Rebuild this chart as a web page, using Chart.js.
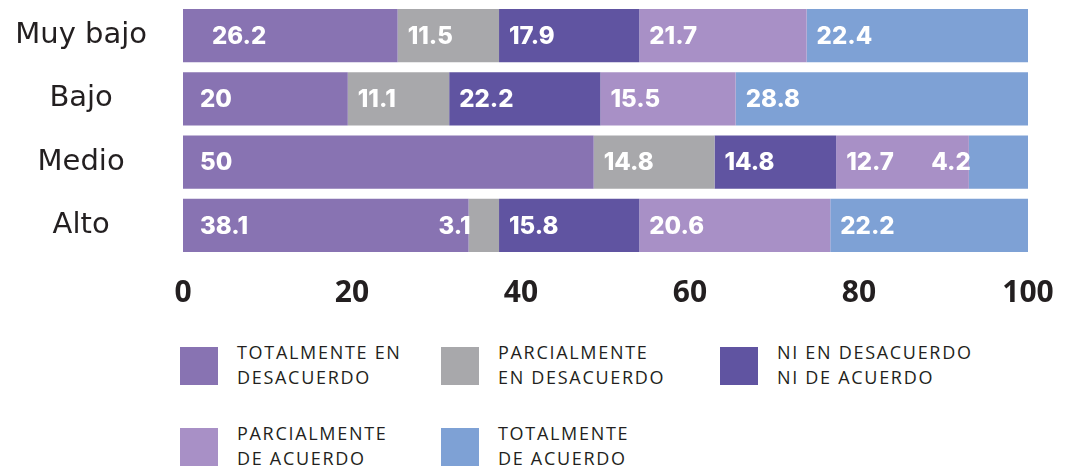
<!DOCTYPE html>
<html>
<head>
<meta charset="utf-8">
<script src="https://cdn.jsdelivr.net/npm/chart.js@4.4.0/dist/chart.umd.min.js"></script>
<style>
  body { margin: 0; width: 1068px; height: 471px; background: #fff; position: relative; overflow: hidden; font-family: 'Open Sans', sans-serif; }
  #wrap { position: absolute; left: 0; top: 0; width: 1068px; height: 320px; }
  .legend { position: absolute; left: 180px; top: 347px; display: grid; grid-template-columns: 261px 279px 280px; grid-auto-rows: 81px; }
  .item { display: flex; align-items: flex-start; }
  .box { width: 38px; height: 38px; flex: none; margin-right: 19px; }
  .txt { font-size: 18px; line-height: 25px; letter-spacing: 1.7px; color: #231f20; font-weight: 500; margin-top: -7px; white-space: nowrap; }
</style>
</head>
<body>
<div id="wrap"><canvas id="chart"></canvas></div>
<div class="legend" id="legend"></div>
<script>
const categories = ['Muy bajo', 'Bajo', 'Medio', 'Alto'];
const ticksX = [0, 20, 40, 60, 80, 100];

// largo de cada tramo tal como aparece dibujado en la figura
const totDesacuerdo = [25.4, 19.5, 48.6, 33.8];
const parDesacuerdo = [12.0, 12.0, 14.3, 3.6];
const niNi = [16.6, 17.9, 14.4, 16.6];
const parAcuerdo = [19.8, 16.0, 15.7, 22.6];
const totAcuerdo = [26.2, 34.6, 7.0, 23.4];

// cifras impresas sobre cada tramo
const totDesacuerdoTxt = ['26.2', '20', '50', '38.1'];
const parDesacuerdoTxt = ['11.5', '11.1', '14.8', '3.1'];
const niNiTxt = ['17.9', '22.2', '14.8', '15.8'];
const parAcuerdoTxt = ['21.7', '15.5', '12.7', '20.6'];
const totAcuerdoTxt = ['22.4', '28.8', '4.2', '22.2'];

const series = [
  { label: ['TOTALMENTE EN', 'DESACUERDO'], data: totDesacuerdo, txt: totDesacuerdoTxt, color: '#8873B2' },
  { label: ['PARCIALMENTE', 'EN DESACUERDO'], data: parDesacuerdo, txt: parDesacuerdoTxt, color: '#A8A8AB' },
  { label: ['NI EN DESACUERDO', 'NI DE ACUERDO'], data: niNi, txt: niNiTxt, color: '#6054A1' },
  { label: ['PARCIALMENTE', 'DE ACUERDO'], data: parAcuerdo, txt: parAcuerdoTxt, color: '#A890C6' },
  { label: ['TOTALMENTE', 'DE ACUERDO'], data: totAcuerdo, txt: totAcuerdoTxt, color: '#7EA1D5' }
];

// etiquetas blancas dentro de las barras
const etiquetas = {
  id: 'etiquetas',
  afterDatasetsDraw(chart) {
    const ctx = chart.ctx;
    ctx.save();
    ctx.font = '800 24px Inter';
    ctx.fillStyle = '#fff';
    ctx.textBaseline = 'middle';
    chart.data.datasets.forEach((ds, i) => {
      chart.getDatasetMeta(i).data.forEach((bar, j) => {
        const txt = ds.txt[j];
        const start = Math.min(bar.base, bar.x);
        if (parseFloat(txt) < 5) {
          ctx.textAlign = 'right';
          ctx.fillText(txt, start + 2, bar.y + 1);
        } else {
          ctx.textAlign = 'left';
          ctx.fillText(txt, start + (i === 0 ? (j === 0 ? 29 : 17) : 10), bar.y + 1);
        }
      });
    });
    ctx.restore();
  }
};

function draw() {
  new Chart(document.getElementById('chart'), {
    type: 'bar',
    data: {
      labels: categories,
      datasets: series.map(s => ({
        label: s.label.join(' '),
        data: s.data,
        txt: s.txt,
        backgroundColor: s.color,
        borderWidth: 0,
        barPercentage: 0.84,
        categoryPercentage: 1
      }))
    },
    options: {
      indexAxis: 'y',
      responsive: true,
      maintainAspectRatio: false,
      animation: false,
      layout: { padding: { left: 0, right: 40, top: 4, bottom: 0 } },
      plugins: { legend: { display: false }, tooltip: { enabled: false } },
      scales: {
        x: {
          stacked: true,
          min: 0,
          max: 100,
          afterBuildTicks: (scale) => { scale.ticks = ticksX.map(v => ({ value: v })); },
          afterFit: (scale) => { scale.height = 63; scale.paddingLeft = 0; scale.paddingRight = 0; },
          grid: { display: false, drawTicks: false },
          border: { display: false },
          ticks: { padding: 18, color: '#231f20', font: { family: 'Open Sans', size: 30, weight: 'bold' } }
        },
        y: {
          stacked: true,
          afterFit: (scale) => { scale.width = 183; scale.paddingTop = 0; scale.paddingBottom = 0; },
          grid: { display: false, drawTicks: false },
          border: { display: false },
          ticks: { crossAlign: 'center', padding: 36, color: '#231f20', font: { family: 'DejaVu Sans', size: 29, weight: 'normal' } }
        }
      }
    },
    plugins: [etiquetas]
  });

  const legend = document.getElementById('legend');
  series.forEach(s => {
    const item = document.createElement('div');
    item.className = 'item';
    item.innerHTML = '<div class="box" style="background:' + s.color + '"></div><div class="txt">' + s.label.join('<br>') + '</div>';
    legend.appendChild(item);
  });
}

Promise.all([
  document.fonts.load('800 24px Inter'),
  document.fonts.load('bold 30px "Open Sans"'),
  document.fonts.load('29px "DejaVu Sans"'),
  document.fonts.load('500 18px "Open Sans"')
]).then(draw, draw);
</script>
</body>
</html>
